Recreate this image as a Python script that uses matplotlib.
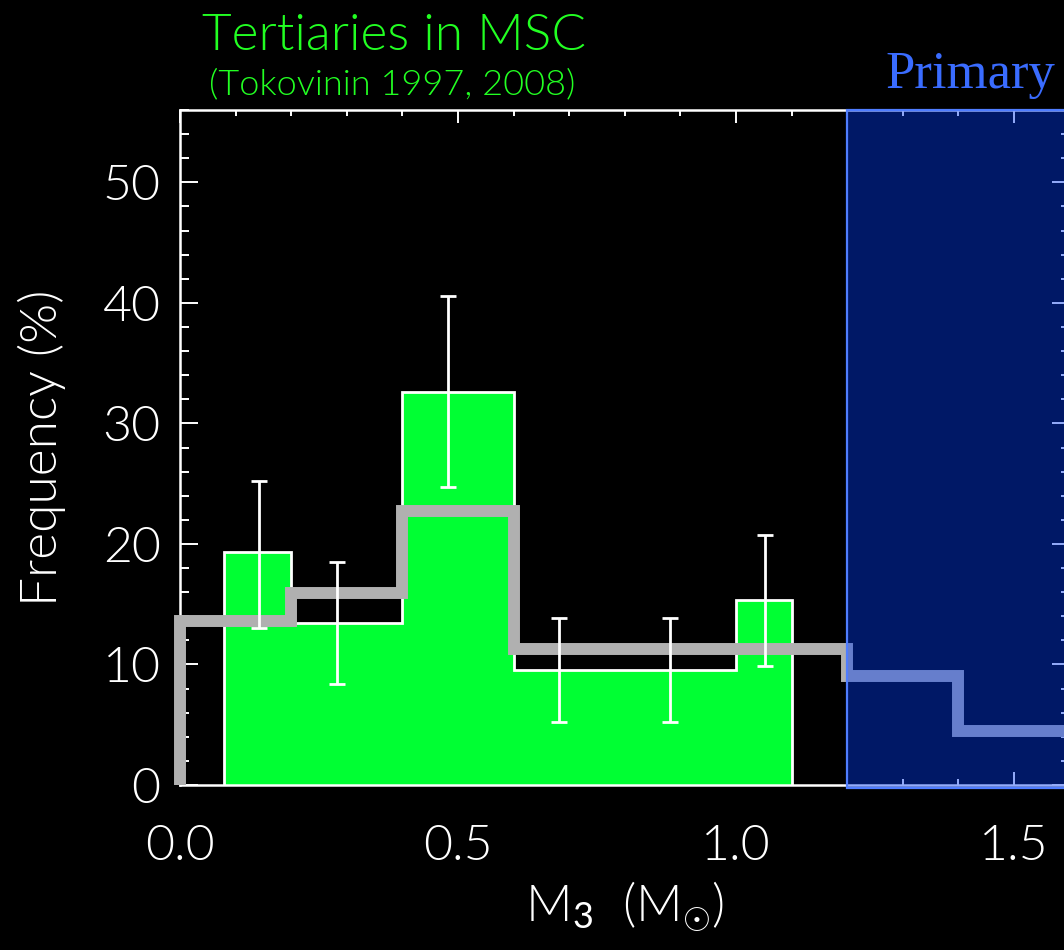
import numpy as np
import matplotlib
matplotlib.use("Agg")
from matplotlib import pyplot as plt
from matplotlib import font_manager
from matplotlib.patches import Rectangle
from matplotlib.ticker import MultipleLocator

# observed tertiary mass histogram (green, drawn as one outline)
bar_edges = [0.08, 0.2, 0.4, 0.6, 0.8, 1.0, 1.1]
bar_freq = [19.3, 13.45, 32.6, 9.55, 9.55, 15.37]

# error bars (mean mass in bin, lower/upper limits)
err_x = [0.142, 0.282, 0.482, 0.682, 0.881, 1.052]
err_lo = [13.05, 8.4, 24.7, 5.25, 5.25, 9.85]
err_hi = [25.2, 18.5, 40.6, 13.85, 13.85, 20.77]

# gray model histogram
model_edges = [0.0, 0.2, 0.4, 0.6, 0.8, 1.0, 1.2, 1.4, 1.6]
model_freq = [13.6, 15.9, 22.7, 11.3, 11.3, 11.3, 9.05, 4.5]

# primary mass region
primary_start = 1.2
primary_end = 1.7

x_ticks = [0.0, 0.5, 1.0, 1.5]
y_ticks = [0, 10, 20, 30, 40, 50]

fonts = font_manager.fontManager.ttflist
names = {f.name for f in fonts}


def pick(*cands):
    for c in cands:
        if c in names:
            return c
    return "DejaVu Sans"


tick_font = pick("Lato", "Open Sans", "DejaVu Sans")
lato_weights = {f.weight for f in fonts if f.name == tick_font}
tick_weight = 300 if 300 in lato_weights else "normal"
title_font = pick("Lato", "DejaVu Sans")
serif_font = pick("Liberation Serif", "DejaVu Serif")

plt.rcParams["mathtext.fontset"] = "custom"
plt.rcParams["mathtext.rm"] = tick_font
plt.rcParams["mathtext.it"] = tick_font

fig = plt.figure(figsize=(10.64, 9.5), dpi=100, facecolor="black")
ax = fig.add_axes([180 / 1064, 165 / 950, 889.6 / 1064, 675 / 950])
ax.set_facecolor("black")

ax.stairs(bar_freq, bar_edges, baseline=0, fill=True, color="#00ff33",
          linewidth=0, zorder=2)
ax.stairs(bar_freq, bar_edges, baseline=0, color="white", linewidth=2,
          zorder=2.1)

st = ax.stairs(model_freq, model_edges, baseline=0, color="#b0b0b0",
               linewidth=8.6, zorder=3, clip_on=False)
st.set_joinstyle("miter")
st.set_capstyle("butt")

mid = (np.array(err_lo) + np.array(err_hi)) / 2
half = (np.array(err_hi) - np.array(err_lo)) / 2
ax.errorbar(err_x, mid, yerr=half, fmt="none", ecolor="white",
            elinewidth=2, capsize=6, capthick=2, zorder=3.5)

ax.add_patch(Rectangle((primary_start, -0.25), primary_end - primary_start, 56.25,
                       facecolor=(0.0, 0.23, 0.96, 0.42), edgecolor="#4f7dff",
                       linewidth=1.6, zorder=4, clip_on=False))

ax.set_xlim(0, 1.6)
ax.set_ylim(0, 56)
ax.set_xticks(x_ticks)
ax.set_xticklabels(["%.1f" % v for v in x_ticks])
ax.set_yticks(y_ticks)
ax.xaxis.set_minor_locator(MultipleLocator(0.1))
ax.yaxis.set_minor_locator(MultipleLocator(2))

for s in ax.spines.values():
    s.set_color("white")
    s.set_linewidth(1.8)

ax.tick_params(which="both", direction="in", colors="white", top=True, right=True,
               width=1.4)
ax.tick_params(axis="x", which="major", length=9.4, pad=28)
ax.tick_params(axis="x", which="minor", length=4.3)
ax.tick_params(axis="y", which="major", length=13, pad=14)
ax.tick_params(axis="y", which="minor", length=6.5)
for lab in ax.get_xticklabels() + ax.get_yticklabels():
    lab.set_fontfamily(tick_font)
    lab.set_fontweight(tick_weight)
    lab.set_fontsize(36)
    lab.set_color("white")

ax.set_ylabel("Frequency (%)", color="white", fontsize=37, family=tick_font,
              fontweight=tick_weight, labelpad=26)
ax.set_xlabel(r"M$_{3}$  (M$_{\odot}$)", color="white", fontsize=37,
              family=tick_font, fontweight=tick_weight, labelpad=8)

fig.text(394 / 1064, 1 - 50 / 950, "Tertiaries in MSC", color="#22ff22",
         fontsize=37, family=title_font, fontweight=tick_weight,
         ha="center", va="baseline")
fig.text(392 / 1064, 1 - 94 / 950, "(Tokovinin 1997, 2008)", color="#22ff22",
         fontsize=26, family=title_font, fontweight=tick_weight,
         ha="center", va="baseline")
fig.text(885 / 1064, 1 - 88 / 950, "Primary", color="#3a6cff",
         fontsize=38, family=serif_font, ha="left", va="baseline")

fig.savefig("out.png", dpi=100, facecolor="black")
